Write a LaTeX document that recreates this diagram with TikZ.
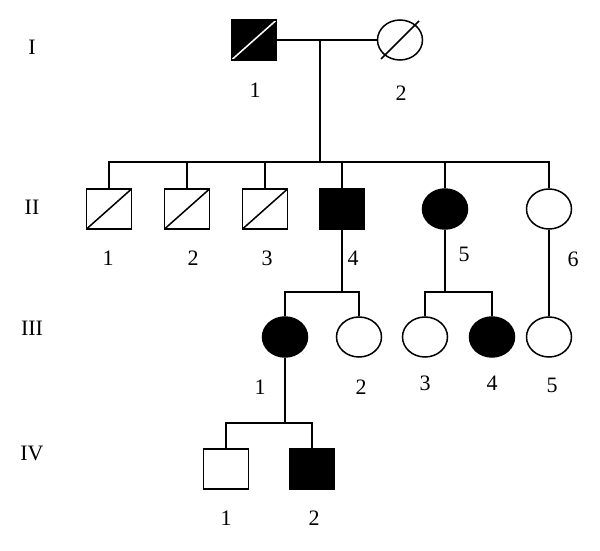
\documentclass[tikz,border=0pt]{standalone}
\usepackage{fontspec}
\setmainfont{Liberation Serif}
\usetikzlibrary{shapes.geometric}
\tikzset{
	male/.style={draw, rectangle, minimum width=45pt, minimum height=40pt, inner sep=0pt},
	female/.style={draw, ellipse, minimum width=45pt, minimum height=40pt, inner sep=0pt},
	affected/.style={fill=black},
	deadsq/.style={path picture={\draw[#1] (path picture bounding box.south west) -- (path picture bounding box.north east);}},
	deadsq/.default=black,
	idnum/.style={font=\fontsize{22}{26}\selectfont, inner sep=0pt}
}

\begin{document}
\begin{tikzpicture}[x=1pt, y=-1pt, line width=1.5pt]
	\useasboundingbox (0,0) rectangle (600,551);
	% generation numbers
	\node[idnum] (gI) at (32,47) {I};
	\node[idnum] (gII) at (32,207) {II};
	\node[idnum] (gIII) at (32,328) {III};
	\node[idnum] (gIV) at (32,453) {IV};
	% generation I
	\node[male, affected, deadsq=white] (I1) at (254,40) {};
	\node[female] (I2) at (400,40) {};
	\draw ([shift={(-19,19)}]I2.center) -- ([shift={(19,-19)}]I2.center);
	\node[idnum] (lI1) at (255,90) {1};
	\node[idnum] (lI2) at (401,93) {2};
	% generation II
	\node[male, deadsq] (II1) at (109,209) {};
	\node[male, deadsq] (II2) at (187,209) {};
	\node[male, deadsq] (II3) at (265,209) {};
	\node[male, affected] (II4) at (342,209) {};
	\node[female, affected] (II5) at (445,209) {};
	\node[female] (II6) at (549,209) {};
	\node[idnum] (lII1) at (108,258) {1};
	\node[idnum] (lII2) at (193,258) {2};
	\node[idnum] (lII3) at (267,258) {3};
	\node[idnum] (lII4) at (353,258) {4};
	\node[idnum] (lII5) at (464,254) {5};
	\node[idnum] (lII6) at (573,259) {6};
	% generation III
	\node[female, affected] (III1) at (285,337) {};
	\node[female] (III2) at (359,337) {};
	\node[female] (III3) at (425,337) {};
	\node[female, affected] (III4) at (492,337) {};
	\node[female] (III5) at (549,337) {};
	\node[idnum] (lIII1) at (260,387) {1};
	\node[idnum] (lIII2) at (361,387) {2};
	\node[idnum] (lIII3) at (425,383) {3};
	\node[idnum] (lIII4) at (492,383) {4};
	\node[idnum] (lIII5) at (552,385) {5};
	% generation IV
	\node[male] (IV1) at (226,469) {};
	\node[male, affected] (IV2) at (312,469) {};
	\node[idnum] (lIV1) at (226,518) {1};
	\node[idnum] (lIV2) at (314,518) {2};
	% lines of descent
	\coordinate (m1) at (320,40);
	\coordinate (c1) at (320,162);
	\coordinate (c4) at (342,292);
	\coordinate (c5) at (445,292);
	\coordinate (c31) at (285,423);
	\draw (I1) -- (I2);
	\draw (m1) -- (c1);
	\draw (II1) |- (c1) -| (II6);
	\foreach \n in {II2,II3,II4,II5}
		\draw (\n) -- (\n |- c1);
	\draw (II4) -- (c4);
	\draw (III1) |- (c4) -| (III2);
	\draw (II5) -- (c5);
	\draw (III3) |- (c5) -| (III4);
	\draw (II6) -- (III5);
	\draw (III1) -- (c31);
	\draw (IV1) |- (c31) -| (IV2);
\end{tikzpicture}
\end{document}
